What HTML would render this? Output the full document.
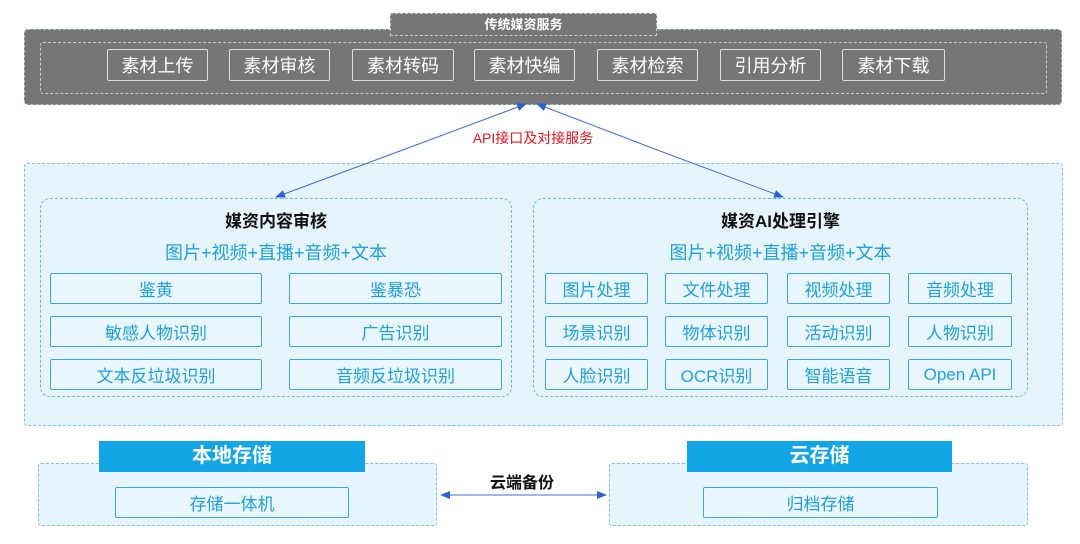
<!DOCTYPE html>
<html><head><meta charset="utf-8"><style>
body{margin:0;width:1080px;height:544px;background:#fff;position:relative;overflow:hidden;font-family:"Liberation Sans","Noto Sans CJK SC",sans-serif}
.a{position:absolute;box-sizing:border-box}
.gb{border:1.5px solid #ddd;color:#fff;font-size:18px;display:flex;align-items:center;justify-content:center;border-radius:2px}
.bb{border:1.5px solid #3aa6de;color:#1fa0dc;font-size:17px;display:flex;align-items:center;justify-content:center;background:#eaf6fd;border-radius:2px}
.t{text-align:center}
</style></head><body>
<div class="a" style="left:24px;top:29px;width:1038px;height:76px;background:#767676;border-radius:4px;border:1px dashed #9cc"></div>
<div class="a" style="left:390px;top:13px;width:267px;height:23px;background:#767676;border:1px dashed #ccc;color:#fff;font-size:13px;font-weight:bold;text-align:center;line-height:22px">传统媒资服务</div>
<div class="a" style="left:40px;top:42px;width:1007px;height:52px;border:1px dashed #ccc;border-radius:3px"></div>
<div class="a gb" style="left:107px;top:49px;width:101px;height:32px">素材上传</div>
<div class="a gb" style="left:229px;top:49px;width:101px;height:32px">素材审核</div>
<div class="a gb" style="left:352px;top:49px;width:102px;height:32px">素材转码</div>
<div class="a gb" style="left:474px;top:49px;width:101px;height:32px">素材快编</div>
<div class="a gb" style="left:597px;top:49px;width:101px;height:32px">素材检索</div>
<div class="a gb" style="left:720px;top:49px;width:101px;height:32px">引用分析</div>
<div class="a gb" style="left:842px;top:49px;width:103px;height:32px">素材下载</div>

<div class="a" style="left:24px;top:163px;width:1039px;height:263px;background:#e6f5fc;border:1px dashed #7cc3dd;border-radius:3px"></div>
<div class="a" style="left:40px;top:198px;width:472px;height:199px;border:1px dashed #6ab7e0;border-radius:10px"></div>
<div class="a" style="left:533px;top:198px;width:495px;height:199px;border:1px dashed #6ab7e0;border-radius:10px"></div>
<div class="a t" style="left:40px;top:207px;width:472px;font-size:17px;font-weight:bold;color:#111">媒资内容审核</div>
<div class="a t" style="left:40px;top:239px;width:472px;font-size:18px;color:#1fa0dc">图片+视频+直播+音频+文本</div>
<div class="a t" style="left:533px;top:207px;width:495px;font-size:17px;font-weight:bold;color:#111">媒资AI处理引擎</div>
<div class="a t" style="left:533px;top:239px;width:495px;font-size:18px;color:#1fa0dc">图片+视频+直播+音频+文本</div>

<div class="a bb" style="left:50px;top:273px;width:212px;height:31px">鉴黄</div>
<div class="a bb" style="left:289px;top:273px;width:213px;height:31px">鉴暴恐</div>
<div class="a bb" style="left:50px;top:316px;width:212px;height:31px">敏感人物识别</div>
<div class="a bb" style="left:289px;top:316px;width:213px;height:31px">广告识别</div>
<div class="a bb" style="left:50px;top:359px;width:212px;height:31px">文本反垃圾识别</div>
<div class="a bb" style="left:289px;top:359px;width:213px;height:31px">音频反垃圾识别</div>

<div class="a bb" style="left:545px;top:273px;width:103px;height:31px">图片处理</div>
<div class="a bb" style="left:665px;top:273px;width:103px;height:31px">文件处理</div>
<div class="a bb" style="left:787px;top:273px;width:103px;height:31px">视频处理</div>
<div class="a bb" style="left:908px;top:273px;width:104px;height:31px">音频处理</div>
<div class="a bb" style="left:545px;top:316px;width:103px;height:31px">场景识别</div>
<div class="a bb" style="left:665px;top:316px;width:103px;height:31px">物体识别</div>
<div class="a bb" style="left:787px;top:316px;width:103px;height:31px">活动识别</div>
<div class="a bb" style="left:908px;top:316px;width:104px;height:31px">人物识别</div>
<div class="a bb" style="left:545px;top:359px;width:103px;height:31px">人脸识别</div>
<div class="a bb" style="left:665px;top:359px;width:103px;height:31px">OCR识别</div>
<div class="a bb" style="left:787px;top:359px;width:103px;height:31px">智能语音</div>
<div class="a bb" style="left:908px;top:359px;width:104px;height:31px">Open API</div>

<div class="a" style="left:38px;top:463px;width:399px;height:63px;background:#e6f5fc;border:1px dashed #7cc3dd;border-radius:3px"></div>
<div class="a" style="left:609px;top:463px;width:419px;height:63px;background:#e6f5fc;border:1px dashed #7cc3dd;border-radius:3px"></div>
<div class="a t" style="left:99px;top:441px;width:266px;height:31px;background:#12a6e6;color:#fff;font-size:20px;font-weight:bold;line-height:31px">本地存储</div>
<div class="a t" style="left:687px;top:441px;width:265px;height:31px;background:#12a6e6;color:#fff;font-size:20px;font-weight:bold;line-height:31px">云存储</div>
<div class="a bb" style="left:115px;top:487px;width:234px;height:31px">存储一体机</div>
<div class="a bb" style="left:703px;top:487px;width:235px;height:31px">归档存储</div>
<div class="a t" style="left:460px;top:469px;width:124px;font-size:16px;font-weight:bold;color:#111">云端备份</div>
<div class="a t" style="left:433px;top:128px;width:200px;font-size:14px;color:#e8141c">API接口及对接服务</div>

<svg class="a" style="left:0;top:0" width="1080" height="544">
<defs><marker id="m" markerWidth="10" markerHeight="8" refX="9" refY="4" orient="auto" markerUnits="userSpaceOnUse"><path d="M0,0 L10,4 L0,8z" fill="#2a62d0"/></marker></defs>
<g stroke="#3b6fd6" stroke-width="1" fill="none">
<line x1="400" y1="151" x2="526" y2="104" marker-end="url(#m)"/>
<line x1="400" y1="151" x2="276" y2="197" marker-end="url(#m)"/>
<line x1="660" y1="151" x2="537" y2="104" marker-end="url(#m)"/>
<line x1="660" y1="151" x2="783" y2="197" marker-end="url(#m)"/>
<line x1="520" y1="495" x2="441" y2="495" marker-end="url(#m)"/>
<line x1="520" y1="495" x2="606" y2="495" marker-end="url(#m)"/>
</g></svg>
</body></html>
